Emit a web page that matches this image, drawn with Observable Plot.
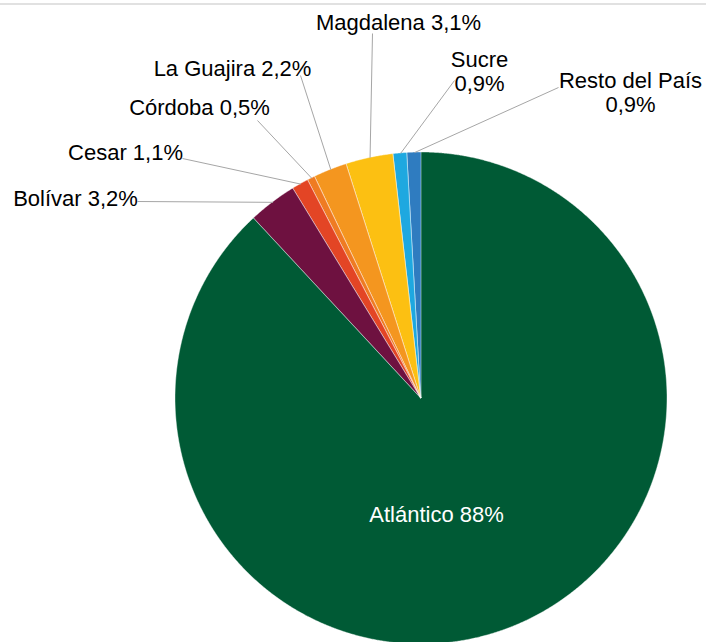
<!DOCTYPE html>
<html>
<head>
<meta charset="utf-8">
<script src="https://cdn.jsdelivr.net/npm/d3@7"></script>
<script src="https://cdn.jsdelivr.net/npm/@observablehq/plot@0.6"></script>
<style>
  html, body { margin: 0; padding: 0; background: #fff; }
  #wrap { position: relative; width: 706px; height: 642px; overflow: hidden; }
  #topline { position: absolute; left: 0; top: 3px; width: 706px; height: 2px; background: #e1e1e1; }
</style>
</head>
<body>
<div id="wrap"><div id="chart"></div><div id="topline"></div></div>
<script>
// ---- data ----
const regions = ["Atlántico", "Bolívar", "Cesar", "Córdoba", "La Guajira", "Magdalena", "Sucre", "Resto del País"];
const shares  = [88, 3.2, 1.1, 0.5, 2.2, 3.1, 0.9, 0.9];
const colors  = ["#005a35", "#6e1140", "#e34525", "#ef7b22", "#f4961f", "#fcc012", "#1ea8e0", "#2f7cc0"];

// ---- layout (pixel space) ----
const W = 706, H = 642;
const CX = 421, CY = 398, R = 246;
// label block centre (tx,ty), leader start (lx,ly), line break, inside?
const labelLayout = [
  {tx: 436, ty: 514, inside: true},
  {tx: 75,  ty: 198, lx: 137, ly: 201},
  {tx: 125, ty: 152, lx: 182, ly: 158},
  {tx: 199, ty: 107, lx: 257, ly: 120},
  {tx: 232, ty: 68,  lx: 300, ly: 75},
  {tx: 398, ty: 22,  lx: 372, ly: 33},
  {tx: 479, ty: 71,  lx: 454, ly: 80, br: true},
  {tx: 630, ty: 91.5, lx: 558, ly: 87, br: true}
];

const fmt = v => (Number.isInteger(v) ? String(v) : String(v).replace(".", ",")) + "%";

const arcs = d3.pie().sort(null).startAngle(0).endAngle(2 * Math.PI)(shares);
const px = a => CX + R * Math.sin(a);
const py = a => CY - R * Math.cos(a);

const pts = [];
arcs.forEach((a, i) => {
  const n = Math.max(4, Math.ceil((a.endAngle - a.startAngle) / (Math.PI / 720)));
  for (let k = 0; k <= n; k++) {
    const t = a.startAngle + (a.endAngle - a.startAngle) * k / n;
    pts.push({name: regions[i], cx: CX, cy: CY, x: px(t), y: py(t)});
  }
});

const labels = regions.map((r, i) => {
  const L = labelLayout[i];
  const mid = (arcs[i].startAngle + arcs[i].endAngle) / 2;
  return {
    text: r + (L.br ? "\n" : " ") + fmt(shares[i]),
    tx: L.tx, ty: L.ty, lx: L.lx, ly: L.ly, inside: !!L.inside,
    ex: px(mid), ey: py(mid)
  };
});

const chart = Plot.plot({
  width: W, height: H,
  margin: 0,
  x: {domain: [0, W], range: [0, W], axis: null},
  y: {domain: [0, H], range: [0, H], axis: null},
  color: {domain: regions, range: colors},
  style: {background: "transparent"},
  marks: [
    Plot.area(pts, {x1: "cx", y1: "cy", x2: "x", y2: "y", z: "name", fill: "name",
      stroke: "white", strokeWidth: 0.7, strokeOpacity: 0.6}),
    Plot.link(labels.filter(d => !d.inside), {x1: "lx", y1: "ly", x2: "ex", y2: "ey",
      stroke: "#a6a6a6", strokeWidth: 1}),
    Plot.text(labels, {x: "tx", y: "ty", text: "text",
      fill: d => d.inside ? "#ffffff" : "#000000",
      fontSize: 22, fontFamily: "'Liberation Sans', Arial, sans-serif",
      lineHeight: 1.1, lineAnchor: "middle", textAnchor: "middle"})
  ]
});
document.getElementById("chart").appendChild(chart);
</script>
</body>
</html>
